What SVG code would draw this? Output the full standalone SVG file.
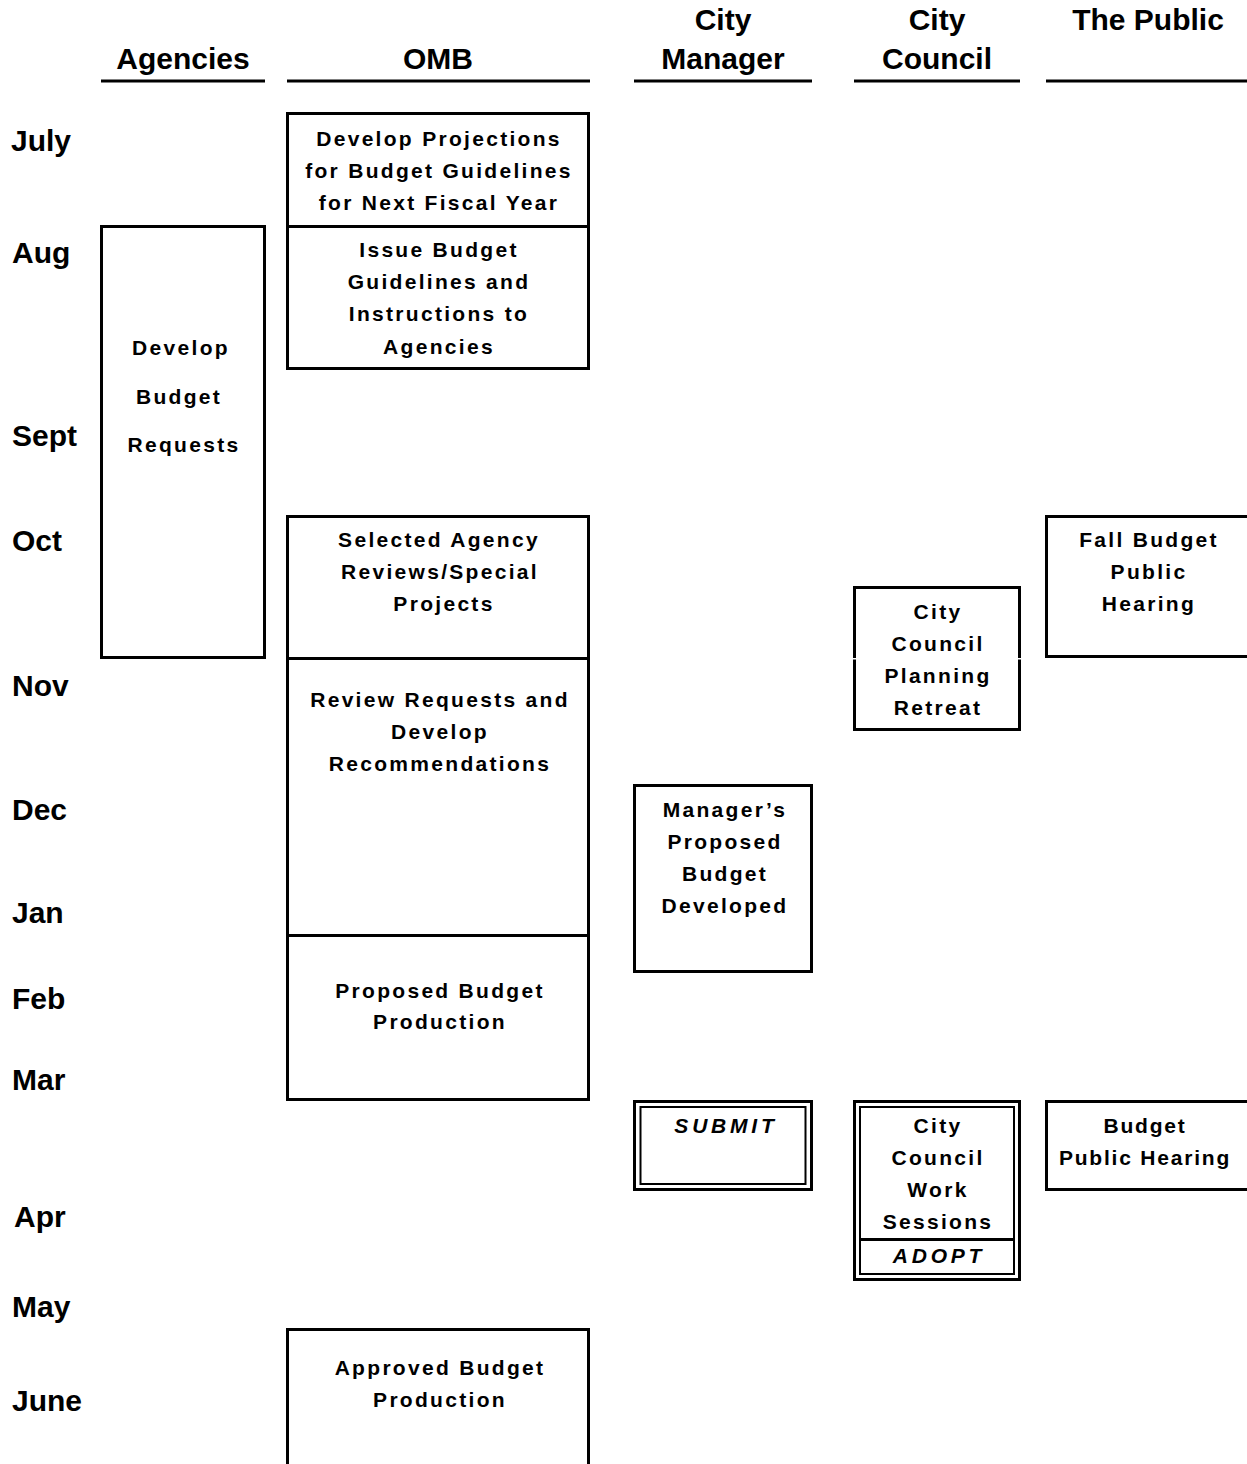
<svg xmlns="http://www.w3.org/2000/svg" width="1247" height="1464" viewBox="0 0 1247 1464">
<style>
.hd{font-family:"Liberation Sans",Arial,sans-serif;font-weight:bold;font-size:30px;fill:#000;text-anchor:middle}
.mo{font-family:"Liberation Sans",Arial,sans-serif;font-weight:bold;font-size:30px;fill:#000}
.t{font-family:"Liberation Sans",Arial,sans-serif;font-weight:bold;font-size:21px;fill:#000;text-anchor:middle;letter-spacing:2.3px}
.ti{font-family:"Liberation Sans",Arial,sans-serif;font-weight:bold;font-style:italic;font-size:21px;fill:#000;text-anchor:middle;letter-spacing:3.8px}
.b{fill:#fff;stroke:#000;stroke-width:3}
.bi{fill:none;stroke:#000;stroke-width:2}
.hl{stroke:#000;stroke-width:3}
</style>
<rect width="1247" height="1464" fill="#fff"/>
<g id="headers">
<text class="hd" x="183" y="69">Agencies</text>
<text class="hd" x="438" y="69">OMB</text>
<text class="hd" x="723" y="30">City</text>
<text class="hd" x="723" y="69">Manager</text>
<text class="hd" x="937" y="30">City</text>
<text class="hd" x="937" y="69">Council</text>
<text class="hd" x="1148" y="30">The Public</text>
<line class="hl" x1="101" y1="81" x2="265" y2="81"/>
<line class="hl" x1="287" y1="81" x2="590" y2="81"/>
<line class="hl" x1="634" y1="81" x2="812" y2="81"/>
<line class="hl" x1="854" y1="81" x2="1020" y2="81"/>
<line class="hl" x1="1046" y1="81" x2="1247" y2="81"/>
</g>
<g id="months">
<text class="mo" x="11" y="151">July</text>
<text class="mo" x="12" y="263">Aug</text>
<text class="mo" x="12" y="446">Sept</text>
<text class="mo" x="12" y="551">Oct</text>
<text class="mo" x="12" y="696">Nov</text>
<text class="mo" x="12" y="820">Dec</text>
<text class="mo" x="12" y="923">Jan</text>
<text class="mo" x="12" y="1009">Feb</text>
<text class="mo" x="12" y="1090">Mar</text>
<text class="mo" x="14" y="1227">Apr</text>
<text class="mo" x="12" y="1317">May</text>
<text class="mo" x="12" y="1411">June</text>
</g>
<g id="connectors"></g>
<g id="n-develop-requests">
<rect class="b" x="101.5" y="226.5" width="163" height="431"/>
<text class="t" x="181" y="355">Develop</text>
<text class="t" x="179" y="404">Budget</text>
<text class="t" x="184" y="452">Requests</text>
</g>
<g id="n-projections">
<rect class="b" x="287.5" y="113.5" width="301" height="113"/>
<text class="t" x="439" y="146">Develop Projections</text>
<text class="t" x="439" y="178">for Budget Guidelines</text>
<text class="t" x="439" y="210">for Next Fiscal Year</text>
</g>
<g id="n-guidelines">
<rect class="b" x="287.5" y="226.5" width="301" height="142"/>
<text class="t" x="439" y="257">Issue Budget</text>
<text class="t" x="439" y="289">Guidelines and</text>
<text class="t" x="439" y="321">Instructions to</text>
<text class="t" x="439" y="354">Agencies</text>
</g>
<g id="n-selected">
<rect class="b" x="287.5" y="516.5" width="301" height="142"/>
<text class="t" x="439" y="547">Selected Agency</text>
<text class="t" x="440" y="579">Reviews/Special</text>
<text class="t" x="444" y="611">Projects</text>
</g>
<g id="n-review">
<rect class="b" x="287.5" y="658.5" width="301" height="277"/>
<text class="t" x="440" y="707">Review Requests and</text>
<text class="t" x="440" y="739">Develop</text>
<text class="t" x="440" y="771">Recommendations</text>
</g>
<g id="n-proposed-production">
<rect class="b" x="287.5" y="935.5" width="301" height="164"/>
<text class="t" x="440" y="998">Proposed Budget</text>
<text class="t" x="440" y="1029">Production</text>
</g>
<g id="n-approved-production">
<rect class="b" x="287.5" y="1329.5" width="301" height="150"/>
<text class="t" x="440" y="1375">Approved Budget</text>
<text class="t" x="440" y="1407">Production</text>
</g>
<g id="n-manager-proposed">
<rect class="b" x="634.5" y="785.5" width="177" height="186"/>
<text class="t" x="725" y="817">Manager’s</text>
<text class="t" x="725" y="849">Proposed</text>
<text class="t" x="725" y="881">Budget</text>
<text class="t" x="725" y="913">Developed</text>
</g>
<g id="n-submit">
<rect class="b" x="634.5" y="1101.5" width="177" height="88"/>
<rect class="bi" x="640.5" y="1107" width="165" height="77"/>
<text class="ti" x="726" y="1133">SUBMIT</text>
</g>
<g id="n-retreat">
<rect class="b" x="854.5" y="587.5" width="165" height="142"/>
<rect x="852" y="658" width="170" height="1.5" fill="#fff"/>
<text class="t" x="938" y="619">City</text>
<text class="t" x="938" y="651">Council</text>
<text class="t" x="938" y="683">Planning</text>
<text class="t" x="938" y="715">Retreat</text>
</g>
<g id="n-fall-hearing">
<rect class="b" x="1046.5" y="516.5" width="210" height="140"/>
<text class="t" x="1149" y="547">Fall Budget</text>
<text class="t" x="1149" y="579">Public</text>
<text class="t" x="1149" y="611">Hearing</text>
</g>
<g id="n-work-sessions">
<rect class="b" x="854.5" y="1101.5" width="165" height="178"/>
<rect class="bi" x="860" y="1107" width="154" height="167"/>
<line x1="860" y1="1239.5" x2="1014" y2="1239.5" stroke="#000" stroke-width="3"/>
<text class="t" x="938" y="1133">City</text>
<text class="t" x="938" y="1165">Council</text>
<text class="t" x="938" y="1197">Work</text>
<text class="t" x="938" y="1229">Sessions</text>
<text class="ti" x="939" y="1263">ADOPT</text>
</g>
<g id="n-budget-hearing">
<rect class="b" x="1046.5" y="1101.5" width="210" height="88"/>
<text class="t" x="1145" y="1133" style="letter-spacing:1.8px">Budget</text>
<text class="t" x="1145" y="1165" style="letter-spacing:1.8px">Public Hearing</text>
</g>
</svg>
